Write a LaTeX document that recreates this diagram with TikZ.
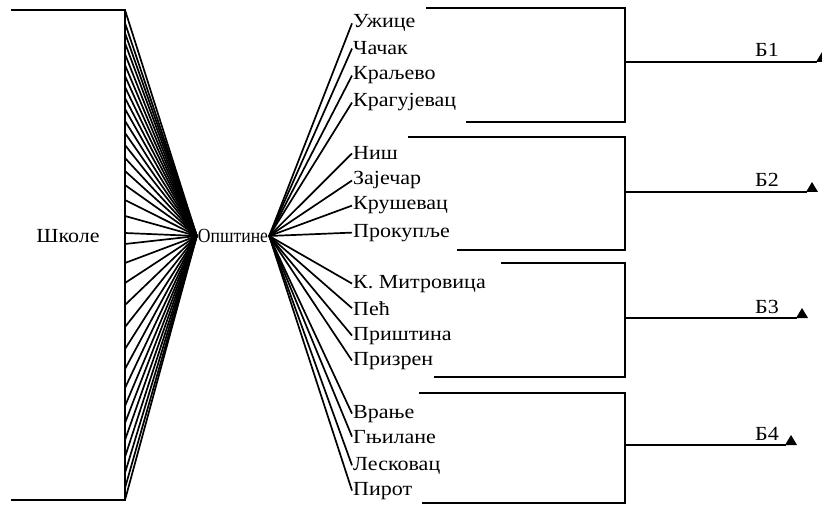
\documentclass[tikz,border=0pt]{standalone}
\usepackage{fontspec}
\setmainfont[FakeStretch=1.1]{Liberation Serif}
\usepackage{graphicx}
\begin{document}
\begin{tikzpicture}[x=1pt,y=-1pt,
  bar/.style={line width=2pt, line cap=rect},
  ray/.style={line width=1.7pt},
  lbl/.style={font=\fontsize{20}{23}\selectfont, inner sep=1pt},
  city/.style={lbl, anchor=base west},
  tri/.style={fill=black}]
\useasboundingbox (0,0) rectangle (822,505);

% left bracket
\coordinate (lt) at (12,10);
\coordinate (ltc) at (125,10);
\coordinate (lbc) at (125,500);
\coordinate (lb) at (12,500);
\draw[bar] (lt) -- (ltc) -- (lbc) -- (lb);

\node[lbl] (skole) at (68,236) {Школе};
\node[lbl, inner sep=0pt] (opst) at (233,236) {\scalebox{0.8}[1]{Општине}};
\coordinate (fl) at ([xshift=-1pt]opst.west);
\coordinate (fr) at ([xshift=1pt]opst.east);

% left fan
\foreach \y in {10,23,33,43,54,65,76,87,98,109,121,133,145,158,171,185,200,216,233,
                244,263,283,305,327,349,369,388,406,423,440,457,473,488,500}
  \draw[ray] (125,\y) -- (fl);

% cities and right fan
\foreach \n/\t/\b in {c1/Ужице/28, c2/Чачак/55, c3/Краљево/80, c4/Крагујевац/107,
                      c5/Ниш/160, c6/Зајечар/185, c7/Крушевац/210, c8/Прокупље/237,
                      c9/К. Митровица/288, c10/Пећ/315, c11/Приштина/340, c12/Призрен/365,
                      c13/Врање/418, c14/Гњилане/443, c15/Лесковац/470, c16/Пирот/495}
{
  \node[city] (\n) at (352,\b) {\t};
  \draw[ray] (fr) -- (\n.west);
}

% right brackets
\foreach \g/\xt/\yt/\xb/\yb/\ym/\xe/\lab in
  {1/427/8/467/122/62/816/Б1,
   2/409/137/458/250/192/806/Б2,
   3/502/263/435/377/318/796/Б3,
   4/420/393/423/503/445/785/Б4}
{
  \coordinate (t\g) at (\xt,\yt);
  \coordinate (tc\g) at (625,\yt);
  \coordinate (bc\g) at (625,\yb);
  \coordinate (b\g) at (\xb,\yb);
  \coordinate (m\g) at (625,\ym);
  \coordinate (e\g) at (\xe,\ym);
  \draw[bar] (t\g) -- (tc\g) -- (bc\g) -- (b\g);
  \draw[bar] (m\g) -- (e\g);
  \fill[tri] (e\g) -- ++(12,0) -- ++(-6,-10) -- cycle;
  \node[lbl, anchor=base west] (lab\g) at (754,\ym-5) {\lab};
}
\end{tikzpicture}
\end{document}
